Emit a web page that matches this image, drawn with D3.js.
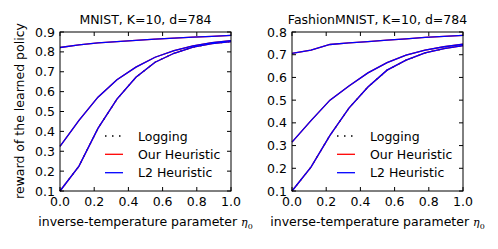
<!DOCTYPE html>
<html>
<head>
<meta charset="utf-8">
<script src="https://cdn.jsdelivr.net/npm/d3@7"></script>
<style>
  body { margin: 0; background: #fff; }
  text { font-family: "DejaVu Sans", sans-serif; fill: #000; font-size: 12.5px; }
</style>
</head>
<body>
<div id="chart"></div>
<script>
// eta0 grid (10 points between 0 and 1)
const eta = [0, 0.111, 0.222, 0.333, 0.444, 0.556, 0.667, 0.778, 0.889, 1.0];

// MNIST
const mnistTop = [0.822, 0.835, 0.845, 0.852, 0.858, 0.864, 0.869, 0.874, 0.878, 0.883];
const mnistMid = [0.325, 0.455, 0.572, 0.66, 0.723, 0.773, 0.806, 0.83, 0.846, 0.857];
const mnistLow = [0.1, 0.225, 0.415, 0.562, 0.672, 0.748, 0.793, 0.824, 0.842, 0.852];

// FashionMNIST
const fashionTop = [0.706, 0.72, 0.745, 0.752, 0.758, 0.764, 0.77, 0.776, 0.781, 0.785];
const fashionMid = [0.315, 0.41, 0.5, 0.562, 0.62, 0.665, 0.698, 0.72, 0.735, 0.746];
const fashionLow = [0.1, 0.205, 0.345, 0.465, 0.558, 0.632, 0.676, 0.708, 0.727, 0.74];

const legendLabels = ['Logging', 'Our Heuristic', 'L2 Heuristic'];

const W = 498, H = 249;
const svg = d3.select('#chart').append('svg')
  .attr('width', W).attr('height', H);

// y label (shared)
svg.append('text')
  .attr('transform', 'translate(24,111) rotate(-90)')
  .attr('text-anchor', 'middle')
  .text('reward of the learned policy');

function panel(opts) {
  const { left, title, yMin, yMax, yTicks, curves } = opts;
  const top = 32, w = 171, h = 159;
  const g = svg.append('g').attr('transform', `translate(${left},${top})`);
  const x = d3.scaleLinear().domain([0, 1]).range([0, w]);
  const y = d3.scaleLinear().domain([yMin, yMax]).range([h, 0]);

  const line = vals => d3.line().x((d, i) => x(eta[i])).y(d => y(d))(vals);

  // logging (dotted, beneath)
  g.append('path').attr('d', line(curves[2]))
    .attr('fill', 'none').attr('stroke', '#000')
    .attr('stroke-width', 1.3).attr('stroke-dasharray', '1.5,5.5');
  curves.forEach(c => {
    g.append('path').attr('d', line(c)).attr('fill', 'none')
      .attr('stroke', '#ff0000').attr('stroke-width', 1.3);
  });
  curves.forEach(c => {
    g.append('path').attr('d', line(c)).attr('fill', 'none')
      .attr('stroke', '#0000ff').attr('stroke-width', 1.3);
  });

  // frame
  g.append('rect').attr('width', w).attr('height', h)
    .attr('fill', 'none').attr('stroke', '#000').attr('stroke-width', 1);

  const xt = [0, 0.2, 0.4, 0.6, 0.8, 1.0];
  const tl = 4;
  xt.forEach(t => {
    g.append('line').attr('x1', x(t)).attr('x2', x(t)).attr('y1', h).attr('y2', h - tl)
      .attr('stroke', '#000');
    g.append('line').attr('x1', x(t)).attr('x2', x(t)).attr('y1', 0).attr('y2', tl)
      .attr('stroke', '#000');
    g.append('text').attr('x', x(t)).attr('y', h + 15)
      .attr('text-anchor', 'middle')
      .text(d3.format('.1f')(t));
  });
  yTicks.forEach(t => {
    g.append('line').attr('x1', 0).attr('x2', tl).attr('y1', y(t)).attr('y2', y(t))
      .attr('stroke', '#000');
    g.append('line').attr('x1', w).attr('x2', w - tl).attr('y1', y(t)).attr('y2', y(t))
      .attr('stroke', '#000');
    g.append('text').attr('x', -5).attr('y', y(t) + 4.5)
      .attr('text-anchor', 'end')
      .text(d3.format('.1f')(t));
  });

  // title
  g.append('text').attr('x', w / 2).attr('y', -8.5)
    .attr('text-anchor', 'middle').text(title);

  // x label
  const xl = g.append('text').attr('x', w / 2).attr('y', h + 35)
    .attr('text-anchor', 'middle');
  xl.append('tspan').text('inverse-temperature parameter ');
  xl.append('tspan').style('font-family', '"DejaVu Serif", serif')
    .style('font-style', 'italic').style('font-size', '11px').text('η');
  xl.append('tspan').attr('dy', 2.5).style('font-size', '8px')
    .style('font-family', '"DejaVu Serif", serif').text('0');

  // legend
  const rows = [104, 122.3, 140.7];
  const styles = [
    { stroke: '#000', dash: '1.5,5.5' },
    { stroke: '#ff0000', dash: null },
    { stroke: '#0000ff', dash: null }
  ];
  legendLabels.forEach((lab, i) => {
    g.append('line').attr('x1', 45).attr('x2', 63).attr('y1', rows[i]).attr('y2', rows[i])
      .attr('stroke', styles[i].stroke).attr('stroke-width', 1.3)
      .attr('stroke-dasharray', styles[i].dash);
    g.append('text').attr('x', 78).attr('y', rows[i] + 4.5).text(lab);
  });
}

panel({
  left: 60, title: 'MNIST, K=10, d=784', yMin: 0.1, yMax: 0.9,
  yTicks: [0.1, 0.2, 0.3, 0.4, 0.5, 0.6, 0.7, 0.8, 0.9],
  curves: [mnistTop, mnistMid, mnistLow]
});
panel({
  left: 292, title: 'FashionMNIST, K=10, d=784', yMin: 0.1, yMax: 0.8,
  yTicks: [0.1, 0.2, 0.3, 0.4, 0.5, 0.6, 0.7, 0.8],
  curves: [fashionTop, fashionMid, fashionLow]
});
</script>
</body>
</html>
